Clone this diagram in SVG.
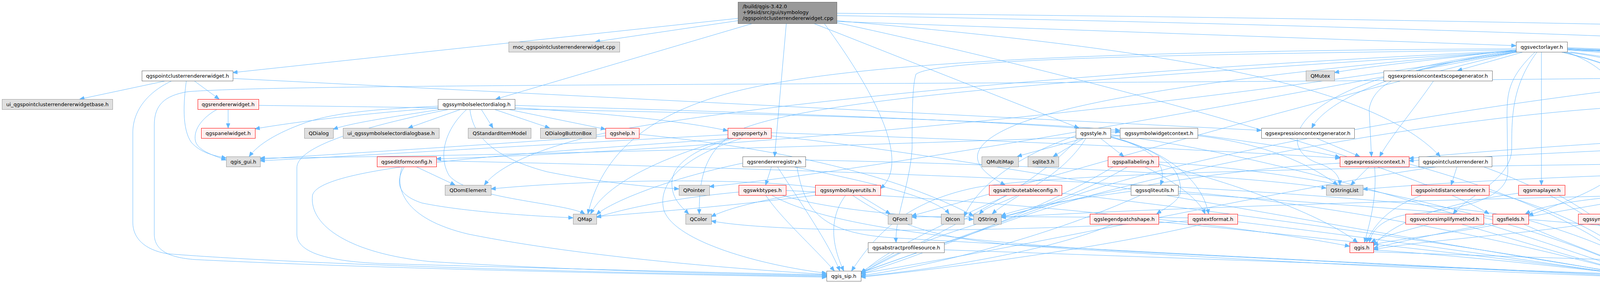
<svg xmlns="http://www.w3.org/2000/svg" width="6342" height="725" viewBox="0 0 6342 725">
<style>
.w rect{fill:#ffffff;stroke:#666666;stroke-width:1}
.r rect{fill:#fff0f0;stroke:#ff0000;stroke-width:1}
.g rect{fill:#e0e0e0;stroke:#999999;stroke-width:1}
.m rect{fill:#999999;stroke:#666666;stroke-width:1}
text{font-family:"DejaVu Sans","Liberation Sans",sans-serif;font-size:13px;fill:#000000;text-anchor:middle}
text.l{text-anchor:start}
#edges path{fill:none;stroke:#63b8ff;stroke-width:1;marker-end:url(#arr)}
</style>
<defs>
<marker id="arr" markerWidth="13" markerHeight="10" refX="12" refY="5" orient="auto" markerUnits="userSpaceOnUse"><path d="M0,0 L12,5 L0,10 z" fill="#63b8ff" stroke="#63b8ff" stroke-width="1"/></marker>
</defs>
<rect x="0" y="0" width="6342" height="725" fill="#ffffff"/>
<g id="edges">
<path d="M1889,47 L596,186"/>
<path d="M1889,53 L1524,107"/>
<path d="M1927,60 L1269,254"/>
<path d="M2013,60 L1983,401"/>
<path d="M2142,55 L3881,117"/>
<path d="M2142,34 C3500,45 5200,80 5535,106 C5660,120 5695,150 5695,190 L5695,280 C5695,330 5740,365 5787,401"/>
<path d="M2142,53 C2900,120 3500,200 3687,401"/>
<path d="M2083,60 L2762,328"/>
<path d="M2142,40 C3300,60 4600,100 5400,160 C5500,170 5522,180 5522,200 L5522,330 C5522,400 5480,440 5463,474"/>
<path d="M2110,60 C2250,250 2330,420 2254,483"/>
<path d="M2142,58 C2800,200 3600,420 3812,548"/>
<path d="M425,207 L204,254"/>
<path d="M497,207 L561,254"/>
<path d="M477,207 C470,260 465,330 490,365 C515,392 545,398 579,405"/>
<path d="M440,207 C370,240 340,290 340,340 L340,570 C340,610 370,640 428,650 C800,680 1600,700 2116,708"/>
<path d="M596,201 L3229,334"/>
<path d="M584,280 L584,328"/>
<path d="M556,280 C520,300 495,330 500,360 C505,385 545,398 579,410"/>
<path d="M662,270 C1500,280 2500,300 2867,334"/>
<path d="M1130,280 C1000,300 900,315 853,331"/>
<path d="M1180,280 L1045,328"/>
<path d="M1232,280 L1262,328"/>
<path d="M1265,280 L1407,328"/>
<path d="M1300,280 L1550,331"/>
<path d="M1318,276 C1550,290 1750,310 1863,335"/>
<path d="M1121,277 C1000,285 800,305 653,330"/>
<path d="M1121,272 C950,280 850,290 780,315 C710,340 660,370 638,401"/>
<path d="M1318,270 C2000,290 2600,310 2867,338"/>
<path d="M1150,280 C900,330 760,380 760,430 L760,600 C760,650 850,672 1000,676 C1500,690 1900,700 2116,704"/>
<path d="M1203,280 C1210,340 1250,400 1400,440 C1550,470 1680,480 1738,484"/>
<path d="M1195,280 C1140,330 1120,400 1150,450 C1200,510 1450,520 1497,548"/>
<path d="M1974,340 C2600,360 3200,390 3430,405"/>
<path d="M1900,354 C1750,400 1680,470 1700,540 C1730,620 1950,680 2116,700"/>
<path d="M1880,354 C1400,390 820,420 800,500 C790,580 900,650 1100,670 C1500,695 1900,702 2116,706"/>
<path d="M1974,348 C2500,400 3500,600 4187,704"/>
<path d="M1880,354 C1780,380 1720,420 1720,470 C1720,510 1745,530 1763,548"/>
<path d="M1870,354 C1700,400 1550,470 1512,548"/>
<path d="M1863,345 C1400,370 900,400 666,412"/>
<path d="M1550,348 C1200,375 800,398 666,408"/>
<path d="M1636,344 C2000,380 2300,450 2492,553"/>
<path d="M1975,427 L1960,474"/>
<path d="M1901,418 C1700,460 1560,520 1527,550"/>
<path d="M1990,427 C2050,520 2120,620 2150,694"/>
<path d="M2040,427 C2060,540 2100,600 2300,610 C2800,640 3800,690 4187,706"/>
<path d="M2030,427 C2250,470 2400,510 2430,548"/>
<path d="M2062,410 C2600,420 3200,450 3395,482"/>
<path d="M1960,500 C2000,560 2080,630 2136,694"/>
<path d="M1975,500 C2100,570 2400,620 3000,650 C3600,680 4000,700 4187,709"/>
<path d="M1891,492 C1700,510 1580,540 1527,557"/>
<path d="M2000,500 C2150,545 2380,555 2492,562"/>
<path d="M2012,488 C2600,515 3200,580 3455,631"/>
<path d="M2165,500 C2120,560 2130,630 2160,694"/>
<path d="M2200,500 L2279,548"/>
<path d="M2087,492 C1950,510 1860,535 1821,555"/>
<path d="M2182,500 C2300,580 2400,610 2600,628 C3200,670 3900,700 4187,710"/>
<path d="M2087,480 C1900,455 1500,460 1257,484"/>
<path d="M2090,500 C1850,530 1650,545 1527,555"/>
<path d="M2290,647 C2260,665 2230,680 2204,698"/>
<path d="M2417,640 C3000,660 3800,690 4187,703"/>
<path d="M3881,128 C3700,150 3500,170 3416,186"/>
<path d="M3900,133 L3731,181"/>
<path d="M4012,128 C4200,140 4330,160 4389,181"/>
<path d="M4005,133 C4150,150 4280,190 4342,254"/>
<path d="M4012,125 C4400,150 4700,210 4825,254"/>
<path d="M4012,122 C4500,140 4950,180 5081,254"/>
<path d="M3881,130 C3600,170 3400,250 3358,328"/>
<path d="M4012,126 C4350,140 4560,160 4600,200 C4630,240 4633,290 4633,328"/>
<path d="M4012,124 C4700,150 5150,170 5200,200 C5260,240 5300,280 5320,328"/>
<path d="M3881,132 C3200,250 2000,380 1117,407"/>
<path d="M3881,130 C3300,180 2800,240 2600,320 C2480,370 2470,420 2573,474"/>
<path d="M3890,133 C3700,160 3520,180 3505,280 L3511,401"/>
<path d="M3946,133 L3946,474"/>
<path d="M4000,133 C4150,170 4245,210 4245,290 L4245,380 C4245,420 4260,450 4276,474"/>
<path d="M3930,133 C3860,200 3858,240 3858,300 L3860,440 C3860,520 3700,540 3600,550 C3540,560 3510,590 3506,621"/>
<path d="M4010,133 C4110,170 4145,220 4145,280 L4145,420 C4145,470 4000,520 3913,552"/>
<path d="M3935,133 C3870,220 3870,300 3870,380 C3870,460 3760,500 3720,548"/>
<path d="M3995,133 C4150,170 4195,200 4195,260 L4195,460 C4195,560 4225,640 4228,694"/>
<path d="M4389,198 C3800,205 3171,210 2000,215 C1000,220 600,225 480,235 C420,245 395,270 395,320 L395,600 C395,640 430,660 500,665 C1000,690 1800,705 2116,710"/>
<path d="M3881,128 C3000,140 2400,150 2345,190 C2335,220 2335,300 2335,380 C2330,470 2290,560 2294,621"/>
<path d="M4020,133 C4500,200 4800,300 4780,420 C4760,480 4650,520 4610,548"/>
<path d="M3881,133 C3000,300 2200,440 1816,478"/>
<path d="M3881,133 C3200,300 2600,480 2334,553"/>
<path d="M3881,125 C2800,130 2200,160 1900,230 C1650,290 1540,400 1505,548"/>
<path d="M3881,130 C2800,180 2000,260 1600,330 C1400,370 1280,420 1240,474"/>
<path d="M3881,131 C2800,200 2100,250 1900,330 C1800,380 1790,460 1790,548"/>
<path d="M3881,131 C3300,200 3250,380 3380,420 C3420,435 3430,455 3430,474"/>
<path d="M4015,128 C4900,160 5030,250 5000,400 C4980,460 4870,500 4850,548"/>
<path d="M4015,126 C5100,160 5530,200 5530,300 C5530,450 5560,600 5568,694"/>
<path d="M3670,207 C3620,280 3560,350 3532,401"/>
<path d="M3370,354 L3481,401"/>
<path d="M3505,427 L3458,474"/>
<path d="M3430,418 C3000,440 2400,560 2204,703"/>
<path d="M3607,420 C3900,500 4100,600 4200,694"/>
<path d="M3519,427 C3525,500 3510,560 3493,621"/>
<path d="M3730,427 L3715,474"/>
<path d="M3797,427 C4000,500 4150,600 4215,694"/>
<path d="M3680,427 C3300,480 2800,600 2204,701"/>
<path d="M3640,500 C3560,530 3520,570 3498,621"/>
<path d="M3812,490 C4000,540 4150,620 4210,694"/>
<path d="M3887,495 C3700,520 3560,570 3516,630"/>
<path d="M3990,500 C4100,560 4180,630 4200,694"/>
<path d="M3840,574 C3700,600 3560,615 3516,627"/>
<path d="M3900,574 C4000,620 4150,670 4190,696"/>
<path d="M3660,574 C3600,590 3540,605 3510,621"/>
<path d="M3740,574 C3900,620 4100,680 4187,702"/>
<path d="M3516,640 C3800,660 4050,690 4187,705"/>
<path d="M3516,645 C4200,670 5000,690 5522,705"/>
<path d="M4460,207 L4378,254"/>
<path d="M4570,195 C4680,215 4740,235 4781,254"/>
<path d="M4500,207 C4540,250 4590,290 4612,328"/>
<path d="M4475,207 C4420,300 4330,420 4300,474"/>
<path d="M4485,207 C4520,330 4560,450 4592,548"/>
<path d="M4540,207 C4700,300 4850,400 4840,480 L4835,548"/>
<path d="M4510,207 C4600,300 4720,500 4650,600 C4600,670 4400,695 4283,702"/>
<path d="M4389,203 C3800,260 3000,400 2700,520 C2450,610 2260,680 2204,697"/>
<path d="M4400,280 L4582,328"/>
<path d="M4378,280 C4500,380 4650,500 4660,580 C4660,650 4450,690 4283,706"/>
<path d="M4284,268 C3800,280 3000,420 2600,560 C2400,630 2250,680 2204,700"/>
<path d="M4790,280 L4679,328"/>
<path d="M4877,280 C5000,350 5106,439 5100,550 C5090,650 4500,695 4283,708"/>
<path d="M5020,280 C4900,300 4780,315 4710,329"/>
<path d="M5105,280 C5200,400 5230,550 5200,620 C5100,680 4500,700 4283,710"/>
<path d="M4590,354 C4500,400 4380,440 4321,474"/>
<path d="M4620,354 C4610,430 4620,500 4628,548"/>
<path d="M4650,354 C4750,420 4820,480 4828,548"/>
<path d="M4640,354 C4720,450 4720,600 4620,650 C4520,690 4350,700 4283,712"/>
<path d="M4557,340 C4200,360 3800,385 3607,406"/>
<path d="M4668,354 C4800,400 5000,500 5150,600 C5300,680 5450,695 5522,702"/>
<path d="M4337,490 C4450,510 4530,535 4576,552"/>
<path d="M4270,500 C4250,560 4240,640 4238,694"/>
<path d="M4233,495 C4050,510 3950,525 3905,548"/>
<path d="M4337,495 C4550,510 4750,530 4805,553"/>
<path d="M4337,500 C4700,560 5200,650 5522,703"/>
<path d="M4233,500 C4000,540 3700,590 3516,636"/>
<path d="M4980,500 C4930,520 4890,535 4861,546"/>
<path d="M4990,500 C4900,560 4600,650 4283,706"/>
<path d="M4918,488 C4000,500 3000,530 2563,557"/>
<path d="M5330,354 C5300,500 5250,620 5100,660 C4800,700 4450,705 4283,708"/>
<path d="M5223,342 C4600,360 3900,395 3607,412"/>
<path d="M5400,354 C5550,400 5620,480 5600,560 C5590,620 5585,660 5583,694"/>
<path d="M5372,490 C5000,520 4500,545 4146,558"/>
<path d="M5448,500 C5440,600 5350,680 5100,690 C4800,700 4400,705 4283,710"/>
<path d="M5835,427 L5843,474"/>
<path d="M5840,427 L5935,474"/>
<path d="M5860,427 L6024,474"/>
<path d="M5880,422 L6154,474"/>
<path d="M5880,410 C6100,415 6330,440 6330,480 C6330,540 6000,630 5700,680 C5650,690 5620,697 5600,701"/>
<path d="M5751,410 C5500,430 5300,450 5095,478"/>
<path d="M5770,427 C5600,500 5400,560 5000,620 C4700,670 4400,700 4283,708"/>
<path d="M5751,405 C4000,420 2800,430 2500,480 C2300,520 2230,620 2180,694"/>
<path d="M5751,418 C5000,425 4000,440 3489,485"/>
<path d="M5760,427 C5300,440 4600,460 4337,480"/>
<path d="M2775,354 C2700,375 2640,390 2604,401"/>
<path d="M2775,354 L2696,401"/>
<path d="M2817,354 L2877,401"/>
<path d="M2843,350 C2950,380 2990,420 2971,474"/>
<path d="M2843,352 C3000,390 3030,450 3020,500 C3010,520 2980,535 2961,548"/>
<path d="M2843,350 C3000,390 3080,470 3094,548"/>
<path d="M2780,354 C2740,420 2660,480 2560,520 C2530,530 2515,540 2507,548"/>
<path d="M2843,345 C3300,400 3900,600 4187,700"/>
<path d="M2760,354 C2650,480 2400,600 2204,699"/>
<path d="M2843,340 C3100,330 3300,380 3424,474"/>
<path d="M2754,348 C2600,400 2500,480 2468,555"/>
<path d="M2867,348 C2000,380 1200,400 666,405"/>
<path d="M3066,345 C3250,370 3380,390 3430,403"/>
<path d="M2887,427 C2800,480 2650,540 2563,556"/>
<path d="M2930,427 C3000,460 3070,510 3085,548"/>
<path d="M2966,415 C3500,450 4000,600 4190,698"/>
<path d="M2850,427 C2700,520 2400,640 2204,702"/>
<path d="M2966,420 C3200,480 3400,560 3475,621"/>
<path d="M2610,500 C2580,520 2560,530 2540,548"/>
<path d="M2580,500 C2400,580 2250,650 2204,704"/>
<path d="M2718,495 C3200,550 3900,650 4187,708"/>
<path d="M2895,490 C2750,510 2620,530 2563,553"/>
<path d="M3016,490 C3500,530 4000,650 4187,704"/>
<path d="M2920,500 C2700,600 2400,680 2204,706"/>
<path d="M3016,495 C4000,560 5000,660 5522,700"/>
<path d="M2966,568 C3500,620 4000,680 4187,706"/>
<path d="M2850,574 C2700,640 2400,690 2204,708"/>
<path d="M3168,568 C3600,620 4000,680 4187,707"/>
<path d="M3080,574 C2800,640 2400,690 2204,710"/>
<path d="M3041,558 C2700,556 2450,553 2334,556"/>
<path d="M3041,566 C2600,595 2000,600 1821,566"/>
<path d="M4100,574 C4140,620 4180,660 4205,694"/>
<path d="M4060,574 C3900,600 3600,620 3516,640"/>
<path d="M1065,427 L1165,474"/>
<path d="M1035,427 C1010,470 1020,500 1080,520 C1200,545 1400,555 1467,558"/>
<path d="M1030,427 C1010,480 1030,560 1200,600 C1500,660 1900,690 2116,703"/>
<path d="M1117,412 C2000,430 3500,480 3900,560 C4100,620 4180,660 4200,694"/>
</g>
<g id="node-main" class="m"><rect x="1889.5" y="5.5" width="253" height="55"/><text class="l" x="1901" y="21">/build/qgis-3.42.0</text><text class="l" x="1901" y="36">+99sid/src/gui/symbology</text><text class="l" x="1901" y="51">/qgspointclusterrendererwidget.cpp</text></g>
<g id="node-pcrw" class="w"><rect x="363.5" y="181.5" width="233" height="26"/><text x="480" y="199">qgspointclusterrendererwidget.h</text></g>
<g id="node-moc" class="g"><rect x="1302.5" y="107.5" width="284" height="26"/><text x="1444" y="125">moc_qgspointclusterrendererwidget.cpp</text></g>
<g id="node-vl" class="w"><rect x="3881.5" y="107.5" width="131" height="26"/><text x="3947" y="125">qgsvectorlayer.h</text></g>
<g id="node-qmutex" class="g"><rect x="3343.5" y="181.5" width="73" height="26"/><text x="3380" y="199">QMutex</text></g>
<g id="node-ecsg" class="w"><rect x="3542.5" y="181.5" width="278" height="26"/><text x="3681" y="199">qgsexpressioncontextscopegenerator.h</text></g>
<g id="node-vdp" class="r"><rect x="4389.5" y="181.5" width="181" height="26"/><text x="4480" y="199">qgsvectordataprovider.h</text></g>
<g id="node-uipcrw" class="g"><rect x="5.5" y="254.5" width="283" height="26"/><text x="147" y="272">ui_qgspointclusterrendererwidgetbase.h</text></g>
<g id="node-rw" class="r"><rect x="506.5" y="254.5" width="156" height="26"/><text x="584" y="272">qgsrendererwidget.h</text></g>
<g id="node-ssd" class="w"><rect x="1121.5" y="254.5" width="197" height="26"/><text x="1220" y="272">qgssymbolselectordialog.h</text></g>
<g id="node-fs" class="w"><rect x="4284.5" y="254.5" width="147" height="26"/><text x="4358" y="272">qgsfeaturesource.h</text></g>
<g id="node-ac" class="r"><rect x="4759.5" y="254.5" width="186" height="26"/><text x="4852" y="272">qgsaggregatecalculator.h</text></g>
<g id="node-fi" class="r"><rect x="5020.5" y="254.5" width="151" height="26"/><text x="5096" y="272">qgsfeatureiterator.h</text></g>
<g id="node-qdialog" class="g"><rect x="779.5" y="328.5" width="74" height="26"/><text x="816" y="346">QDialog</text></g>
<g id="node-pw" class="r"><rect x="515.5" y="328.5" width="138" height="26"/><text x="584" y="346">qgspanelwidget.h</text></g>
<g id="node-uissd" class="g"><rect x="878.5" y="328.5" width="246" height="26"/><text x="1001" y="346">ui_qgssymbolselectordialogbase.h</text></g>
<g id="node-qsim" class="g"><rect x="1198.5" y="328.5" width="161" height="26"/><text x="1279" y="346">QStandardItemModel</text></g>
<g id="node-qdbb" class="g"><rect x="1383.5" y="328.5" width="143" height="26"/><text x="1455" y="346">QDialogButtonBox</text></g>
<g id="node-help" class="r"><rect x="1550.5" y="328.5" width="86" height="26"/><text x="1593" y="346">qgshelp.h</text></g>
<g id="node-prop" class="r"><rect x="1863.5" y="328.5" width="111" height="26"/><text x="1919" y="346">qgsproperty.h</text></g>
<g id="node-style" class="w"><rect x="2754.5" y="328.5" width="89" height="26"/><text x="2799" y="346">qgsstyle.h</text></g>
<g id="node-swc" class="w"><rect x="2867.5" y="328.5" width="199" height="26"/><text x="2967" y="346">qgssymbolwidgetcontext.h</text></g>
<g id="node-ecg" class="w"><rect x="3229.5" y="328.5" width="238" height="26"/><text x="3348" y="346">qgsexpressioncontextgenerator.h</text></g>
<g id="node-fr" class="r"><rect x="4557.5" y="328.5" width="153" height="26"/><text x="4634" y="346">qgsfeaturerequest.h</text></g>
<g id="node-vltc" class="w"><rect x="5223.5" y="328.5" width="213" height="26"/><text x="5330" y="346">qgsvectorlayertoolscontext.h</text></g>
<g id="node-gui" class="g"><rect x="579.5" y="401.5" width="87" height="26"/><text x="623" y="419">qgis_gui.h</text></g>
<g id="node-efc" class="r"><rect x="965.5" y="401.5" width="152" height="26"/><text x="1041" y="419">qgseditformconfig.h</text></g>
<g id="node-rr" class="w"><rect x="1901.5" y="401.5" width="161" height="26"/><text x="1982" y="419">qgsrendererregistry.h</text></g>
<g id="node-qmm" class="g"><rect x="2513.5" y="401.5" width="94" height="26"/><text x="2560" y="419">QMultiMap</text></g>
<g id="node-sqlite" class="g"><rect x="2631.5" y="401.5" width="79" height="26"/><text x="2671" y="419">sqlite3.h</text></g>
<g id="node-pal" class="r"><rect x="2836.5" y="401.5" width="130" height="26"/><text x="2901" y="419">qgspallabeling.h</text></g>
<g id="node-ec" class="r"><rect x="3430.5" y="401.5" width="177" height="26"/><text x="3519" y="419">qgsexpressioncontext.h</text></g>
<g id="node-pcr" class="w"><rect x="3632.5" y="401.5" width="187" height="26"/><text x="3726" y="419">qgspointclusterrenderer.h</text></g>
<g id="node-app" class="w"><rect x="5751.5" y="401.5" width="129" height="26"/><text x="5816" y="419">qgsapplication.h</text></g>
<g id="node-qdom" class="g"><rect x="1139.5" y="474.5" width="118" height="26"/><text x="1198" y="492">QDomElement</text></g>
<g id="node-qptr" class="g"><rect x="1738.5" y="474.5" width="78" height="26"/><text x="1777" y="492">QPointer</text></g>
<g id="node-wkb" class="r"><rect x="1891.5" y="474.5" width="121" height="26"/><text x="1952" y="492">qgswkbtypes.h</text></g>
<g id="node-slu" class="r"><rect x="2087.5" y="474.5" width="167" height="26"/><text x="2171" y="492">qgssymbollayerutils.h</text></g>
<g id="node-atc" class="r"><rect x="2532.5" y="474.5" width="186" height="26"/><text x="2625" y="492">qgsattributetableconfig.h</text></g>
<g id="node-sqlu" class="w"><rect x="2895.5" y="474.5" width="121" height="26"/><text x="2956" y="492">qgssqliteutils.h</text></g>
<g id="node-qsl" class="g"><rect x="3395.5" y="474.5" width="94" height="26"/><text x="3442" y="492">QStringList</text></g>
<g id="node-pdr" class="r"><rect x="3613.5" y="474.5" width="199" height="26"/><text x="3713" y="492">qgspointdistancerenderer.h</text></g>
<g id="node-ml" class="r"><rect x="3887.5" y="474.5" width="119" height="26"/><text x="3947" y="492">qgsmaplayer.h</text></g>
<g id="node-feat" class="r"><rect x="4233.5" y="474.5" width="104" height="26"/><text x="4285" y="492">qgsfeature.h</text></g>
<g id="node-tc" class="w"><rect x="4918.5" y="474.5" width="177" height="26"/><text x="5007" y="492">qgstranslationcontext.h</text></g>
<g id="node-ms" class="w"><rect x="5372.5" y="474.5" width="151" height="26"/><text x="5448" y="492">qgsmarkersymbol.h</text></g>
<g id="node-qapp" class="g"><rect x="5802.5" y="474.5" width="105" height="26"/><text x="5855" y="492">QApplication</text></g>
<g id="node-qevent" class="g"><rect x="5931.5" y="474.5" width="70" height="26"/><text x="5966" y="492">QEvent</text></g>
<g id="node-config" class="g"><rect x="6025.5" y="474.5" width="97" height="26"/><text x="6074" y="492">qgsconfig.h</text></g>
<g id="node-sei" class="r"><rect x="6146.5" y="474.5" width="172" height="26"/><text x="6232" y="492">qgssettingsentryimpl.h</text></g>
<g id="node-qmap" class="g"><rect x="1467.5" y="548.5" width="60" height="26"/><text x="1497" y="566">QMap</text></g>
<g id="node-qcolor" class="g"><rect x="1755.5" y="548.5" width="66" height="26"/><text x="1788" y="566">QColor</text></g>
<g id="node-qfont" class="g"><rect x="2273.5" y="548.5" width="61" height="26"/><text x="2304" y="566">QFont</text></g>
<g id="node-qicon" class="g"><rect x="2409.5" y="548.5" width="59" height="26"/><text x="2439" y="566">QIcon</text></g>
<g id="node-qstring" class="g"><rect x="2492.5" y="548.5" width="71" height="26"/><text x="2528" y="566">QString</text></g>
<g id="node-lps" class="r"><rect x="2790.5" y="548.5" width="176" height="26"/><text x="2878" y="566">qgslegendpatchshape.h</text></g>
<g id="node-tf" class="r"><rect x="3041.5" y="548.5" width="127" height="26"/><text x="3105" y="566">qgstextformat.h</text></g>
<g id="node-vsm" class="r"><rect x="3598.5" y="548.5" width="200" height="26"/><text x="3698" y="566">qgsvectorsimplifymethod.h</text></g>
<g id="node-fields" class="r"><rect x="3821.5" y="548.5" width="92" height="26"/><text x="3867" y="566">qgsfields.h</text></g>
<g id="node-sym" class="r"><rect x="4040.5" y="548.5" width="106" height="26"/><text x="4093" y="566">qgssymbol.h</text></g>
<g id="node-qset" class="g"><rect x="4576.5" y="548.5" width="54" height="26"/><text x="4603" y="566">QSet</text></g>
<g id="node-qlist" class="g"><rect x="4805.5" y="548.5" width="56" height="26"/><text x="4833" y="566">QList</text></g>
<g id="node-aps" class="w"><rect x="2222.5" y="621.5" width="195" height="26"/><text x="2320" y="639">qgsabstractprofilesource.h</text></g>
<g id="node-qgis" class="r"><rect x="3455.5" y="621.5" width="61" height="26"/><text x="3486" y="639">qgis.h</text></g>
<g id="node-sip" class="w"><rect x="2116.5" y="694.5" width="88" height="26"/><text x="2160" y="712">qgis_sip.h</text></g>
<g id="node-core" class="g"><rect x="4187.5" y="694.5" width="96" height="26"/><text x="4235" y="712">qgis_core.h</text></g>
<g id="node-memory" class="g"><rect x="5522.5" y="694.5" width="78" height="26"/><text x="5561" y="712">memory</text></g>
</svg>
